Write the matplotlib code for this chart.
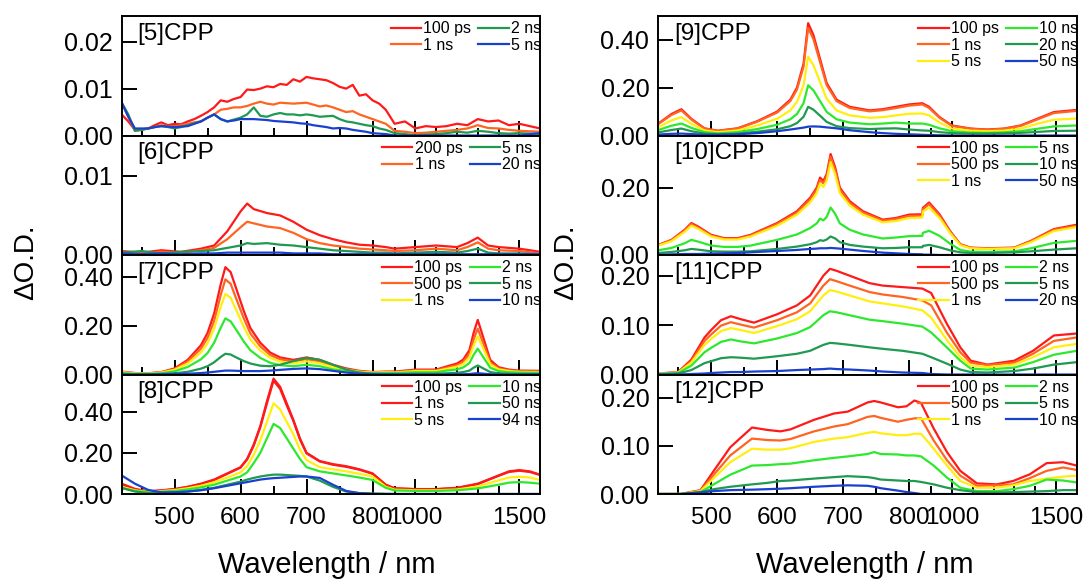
import numpy as np
import matplotlib
matplotlib.use("Agg")
import matplotlib.pyplot as plt
from matplotlib.ticker import FixedLocator

plt.rcParams['font.family'] = ['Liberation Sans', 'DejaVu Sans']

# ---------------- data ----------------
RED = '#ff1a1a'; ORANGE = '#ff6420'; YELLOW = '#ffee10'
LGREEN = '#2ee82e'; DGREEN = '#1f9a50'; BLUE = '#1a40d0'

# [5]CPP
wl5 = [420,430,440,450,460,470,480,490,500,510,520,530,540,550,560,570,580,590,600,610,620,630,640,650,660,670,680,690,700,710,720,730,740,750,760,770,780,790,800,810,820,
       900,950,1000,1050,1100,1150,1200,1250,1300,1350,1400,1450,1500,1550,1600]
c5_100ps = [0.0045,0.003,0.0012,0.0013,0.0015,0.0022,0.0028,0.0022,0.0025,0.0024,0.003,0.0035,0.0042,0.005,0.006,0.0075,0.0072,0.0078,0.0082,0.0098,0.0097,0.010,0.0105,0.0103,0.011,0.0108,0.012,0.0115,0.0125,0.0122,0.012,0.0118,0.0112,0.0104,0.010,0.0108,0.0085,0.0088,0.0075,0.0068,0.0055,
            0.0025,0.003,0.0015,0.002,0.0018,0.002,0.0025,0.0022,0.0035,0.003,0.0032,0.0022,0.0025,0.002,0.0015]
c5_1ns = [0.007,0.004,0.001,0.0012,0.0015,0.0018,0.0022,0.002,0.002,0.0022,0.0025,0.0028,0.003,0.0038,0.0045,0.0055,0.0057,0.006,0.006,0.0063,0.0068,0.0072,0.0068,0.0066,0.007,0.0069,0.0068,0.0069,0.007,0.0066,0.0062,0.0064,0.006,0.0055,0.005,0.0052,0.0045,0.004,0.0035,0.003,0.0025,
          0.001,0.0008,0.0005,0.0006,0.0008,0.001,0.0012,0.0015,0.0022,0.0016,0.0015,0.0012,0.001,0.0009,0.0008]
c5_2ns = [0.007,0.0045,0.001,0.0012,0.0015,0.0018,0.002,0.0018,0.0015,0.0018,0.0022,0.0026,0.003,0.0038,0.0045,0.0035,0.003,0.0034,0.0038,0.0045,0.006,0.0042,0.004,0.0045,0.0048,0.0045,0.0045,0.0043,0.0045,0.0043,0.004,0.0041,0.0042,0.0035,0.003,0.0028,0.0025,0.0022,0.002,0.0015,0.0012,
          0.0005,0.0003,0.0,0.0002,0.0003,0.0005,0.0008,0.0006,0.001,0.0008,0.0005,0.0004,0.0005,0.0004,0.0003]
c5_5ns = [0.007,0.004,0.0015,0.0015,0.0015,0.0018,0.002,0.0019,0.0018,0.0019,0.002,0.0025,0.003,0.0038,0.0045,0.0035,0.003,0.0032,0.0035,0.0035,0.0035,0.0034,0.0033,0.0031,0.003,0.0029,0.0028,0.0026,0.0025,0.0022,0.002,0.0018,0.0015,0.0016,0.0015,0.0012,0.001,0.0008,0.0005,0.0004,0.0003,
          0,0,0,0,0,0,0,0,0,0,0,0,0,0.0003,0.0005]

# [6]CPP
wl6 = [420,450,480,510,540,560,580,600,610,620,640,660,680,700,720,740,760,780,800,820,900,1000,1100,1200,1250,1300,1350,1400,1500,1600]
c6_200ps = [0.0005,0.0003,0.0006,0.0004,0.0008,0.0012,0.003,0.0055,0.0065,0.0058,0.0053,0.005,0.0042,0.0032,0.0025,0.002,0.0016,0.0013,0.0012,0.001,0.0008,0.001,0.0012,0.001,0.0015,0.0022,0.0012,0.001,0.0008,0.0004]
c6_1ns = [0.0003,0.0002,0.0004,0.0003,0.0006,0.0009,0.002,0.0035,0.0042,0.004,0.0036,0.0034,0.0028,0.002,0.0015,0.0012,0.001,0.0008,0.0007,0.0006,0.0005,0.0006,0.0008,0.0006,0.001,0.0016,0.0008,0.0006,0.0005,0.0002]
c6_5ns = [0.0003,0.0005,0.0002,0.0004,0.0005,0.0006,0.0009,0.0012,0.0015,0.0014,0.0015,0.0013,0.0012,0.001,0.0008,0.0006,0.0005,0.0004,0.0003,0.0003,0.0002,0.0003,0.0004,0.0003,0.0005,0.0008,0.0003,0.0002,0.0002,0.0001]
c6_20ns = [0.0002,0.0001,0.0002,0.0001,0.0002,0.0002,0.0003,0.0003,0.0003,0.0003,0.0003,0.0003,0.0002,0.0002,0.0002,0.0001,0.0001,0.0001,0.0001,0.0001,0.0001,0.0001,0.0001,0.0001,0.0001,0.0001,0.0001,0.0001,0.0001,0.0001]

# [7]CPP
wl7 = [420,440,460,480,500,520,540,550,560,570,577,585,595,605,615,630,645,660,680,700,720,740,760,780,800,820,
       900,1000,1100,1150,1200,1230,1260,1280,1300,1320,1360,1400,1450,1500,1600]
c7_100ps = [0.012,0.006,0.005,0.010,0.025,0.060,0.120,0.170,0.250,0.370,0.440,0.420,0.340,0.260,0.190,0.130,0.090,0.070,0.060,0.070,0.060,0.040,0.025,0.015,0.010,0.012,
            0.012,0.020,0.020,0.033,0.045,0.061,0.100,0.170,0.224,0.170,0.060,0.030,0.020,0.016,0.015]
c7_500ps = [0.011,0.005,0.004,0.009,0.022,0.053,0.106,0.150,0.220,0.326,0.390,0.372,0.300,0.230,0.168,0.115,0.080,0.062,0.054,0.063,0.054,0.035,0.022,0.013,0.009,0.010,
            0.010,0.017,0.017,0.028,0.038,0.052,0.085,0.143,0.188,0.143,0.050,0.025,0.017,0.013,0.012]
c7_1ns = [0.009,0.005,0.004,0.008,0.019,0.045,0.090,0.128,0.188,0.278,0.330,0.315,0.255,0.195,0.143,0.098,0.068,0.053,0.046,0.054,0.046,0.030,0.019,0.011,0.008,0.009,
          0.008,0.014,0.014,0.023,0.032,0.043,0.070,0.119,0.156,0.119,0.042,0.021,0.014,0.011,0.010]
c7_2ns = [0.006,0.003,0.003,0.005,0.013,0.031,0.062,0.088,0.130,0.192,0.230,0.218,0.177,0.135,0.099,0.068,0.048,0.038,0.034,0.040,0.034,0.021,0.013,0.008,0.005,0.006,
          0.006,0.009,0.009,0.016,0.021,0.029,0.047,0.080,0.106,0.080,0.028,0.014,0.009,0.008,0.007]
c7_5ns = [0.002,0.001,0.001,0.002,0.005,0.011,0.024,0.034,0.050,0.072,0.085,0.082,0.068,0.055,0.045,0.036,0.034,0.040,0.055,0.068,0.060,0.040,0.020,0.008,0.003,0.002,
          0.002,0.003,0.003,0.005,0.007,0.010,0.016,0.028,0.037,0.028,0.010,0.005,0.003,0.002,0.002]
c7_10ns = [0.0,0.0,0.0,0.001,0.002,0.003,0.006,0.008,0.011,0.014,0.016,0.016,0.015,0.014,0.014,0.014,0.016,0.019,0.023,0.025,0.022,0.015,0.008,0.003,0.001,0.0,
           0.0,0.0,0.0,0.0,0.001,0.001,0.002,0.004,0.005,0.004,0.001,0.0,0.0,0.0,0.0]

# [8]CPP
wl8 = [420,440,460,480,500,520,540,560,580,600,610,620,630,640,650,660,670,680,690,700,720,740,760,780,800,820,900,1000,1100,1200,1300,1400,1450,1500,1550,1600]
c8_100ps = [0.05,0.025,0.013,0.018,0.024,0.035,0.05,0.07,0.1,0.13,0.17,0.24,0.33,0.45,0.56,0.52,0.44,0.36,0.27,0.2,0.16,0.145,0.135,0.12,0.1,0.045,0.028,0.024,0.024,0.03,0.05,0.09,0.11,0.116,0.11,0.094]
c8_1ns = [0.045,0.022,0.012,0.017,0.023,0.034,0.048,0.068,0.098,0.128,0.168,0.235,0.325,0.44,0.55,0.51,0.43,0.355,0.265,0.197,0.158,0.142,0.132,0.118,0.098,0.044,0.027,0.023,0.023,0.029,0.048,0.088,0.107,0.113,0.107,0.092]
c8_5ns = [0.035,0.018,0.01,0.014,0.019,0.028,0.04,0.057,0.08,0.105,0.135,0.19,0.26,0.35,0.44,0.41,0.35,0.29,0.215,0.165,0.13,0.12,0.11,0.098,0.085,0.035,0.021,0.018,0.018,0.022,0.036,0.066,0.08,0.084,0.08,0.068]
c8_10ns = [0.028,0.015,0.008,0.011,0.015,0.022,0.032,0.045,0.065,0.085,0.105,0.15,0.2,0.27,0.34,0.32,0.27,0.22,0.17,0.13,0.11,0.1,0.09,0.08,0.068,0.03,0.017,0.015,0.015,0.018,0.027,0.045,0.055,0.058,0.055,0.05]
c8_50ns = [0.03,0.012,0.004,0.005,0.008,0.012,0.02,0.03,0.045,0.06,0.07,0.078,0.085,0.09,0.094,0.094,0.092,0.09,0.088,0.085,0.065,0.035,0.012,0.004,0.002,0.001,0.0,0.0,0.0,0.0,0.0,0.0,0.0,0.0,0.0,0.0]
c8_94ns = [0.09,0.05,0.02,0.008,0.008,0.012,0.018,0.028,0.04,0.052,0.058,0.064,0.07,0.074,0.077,0.079,0.081,0.083,0.085,0.085,0.078,0.045,0.015,0.004,0.001,0.0,0.0,0.0,0.0,0.0,0.0,0.0,0.0,0.0,0.0,0.0]

# [9]CPP
wl9 = [420,440,455,470,490,510,540,570,600,620,630,640,647,655,665,675,690,710,740,760,780,800,820,
       890,940,1000,1090,1170,1250,1330,1410,1490,1600]
c9_100ps = [0.050,0.090,0.110,0.070,0.030,0.020,0.030,0.060,0.100,0.150,0.200,0.300,0.470,0.420,0.320,0.220,0.150,0.120,0.105,0.110,0.120,0.130,0.135,
            0.120,0.077,0.042,0.029,0.025,0.029,0.042,0.070,0.098,0.107]
c9_1ns = [0.048,0.086,0.105,0.067,0.029,0.019,0.029,0.058,0.096,0.144,0.192,0.288,0.450,0.403,0.307,0.211,0.144,0.115,0.101,0.106,0.115,0.125,0.130,
          0.115,0.074,0.040,0.028,0.024,0.028,0.040,0.067,0.094,0.103]
c9_5ns = [0.035,0.063,0.077,0.049,0.021,0.014,0.021,0.042,0.070,0.105,0.140,0.210,0.330,0.294,0.224,0.154,0.105,0.084,0.074,0.077,0.084,0.091,0.092,
          0.084,0.054,0.029,0.020,0.018,0.020,0.029,0.049,0.066,0.071]
c9_10ns = [0.023,0.041,0.050,0.032,0.014,0.009,0.014,0.027,0.045,0.068,0.090,0.135,0.210,0.189,0.144,0.099,0.068,0.054,0.047,0.050,0.054,0.050,0.050,
           0.045,0.030,0.018,0.012,0.011,0.013,0.018,0.028,0.038,0.042]
c9_20ns = [0.013,0.023,0.029,0.018,0.008,0.005,0.008,0.016,0.026,0.039,0.052,0.078,0.120,0.108,0.083,0.057,0.039,0.031,0.027,0.029,0.030,0.025,0.021,
           0.020,0.014,0.010,0.008,0.008,0.009,0.011,0.015,0.019,0.020]
c9_50ns = [0.004,0.007,0.008,0.006,0.003,0.003,0.005,0.010,0.018,0.025,0.029,0.033,0.037,0.038,0.037,0.034,0.030,0.022,0.014,0.010,0.007,0.005,0.003,
           0.002,0.001,0.0,0.0,0.0,0.0,0.0,0.0,0.0,0.0]

# [10]CPP
wl10 = [420,440,460,470,480,500,520,540,560,600,630,650,660,665,670,675,681,688,695,710,730,760,780,800,820,
        860,890,940,990,1040,1090,1170,1300,1380,1490,1600]
c10_100ps = [0.030,0.045,0.075,0.095,0.085,0.060,0.050,0.050,0.060,0.095,0.130,0.170,0.200,0.230,0.220,0.240,0.300,0.260,0.200,0.160,0.130,0.105,0.110,0.120,0.121,
             0.140,0.156,0.121,0.072,0.032,0.022,0.020,0.022,0.042,0.077,0.090]
c10_500ps = [0.029,0.044,0.073,0.092,0.082,0.058,0.048,0.048,0.058,0.092,0.126,0.165,0.194,0.223,0.213,0.233,0.291,0.252,0.194,0.155,0.126,0.102,0.107,0.116,0.117,
             0.136,0.151,0.117,0.070,0.031,0.021,0.019,0.021,0.041,0.075,0.087]
c10_1ns = [0.028,0.041,0.069,0.087,0.078,0.055,0.046,0.046,0.055,0.087,0.120,0.156,0.184,0.212,0.202,0.221,0.276,0.239,0.184,0.147,0.120,0.097,0.101,0.110,0.111,
           0.129,0.141,0.110,0.066,0.029,0.020,0.018,0.020,0.038,0.071,0.083]
c10_5ns = [0.014,0.021,0.035,0.045,0.040,0.028,0.024,0.024,0.028,0.045,0.061,0.080,0.094,0.108,0.103,0.113,0.141,0.122,0.094,0.075,0.061,0.049,0.052,0.056,0.057,
           0.066,0.072,0.057,0.034,0.015,0.010,0.009,0.011,0.020,0.036,0.042]
c10_10ns = [0.006,0.009,0.014,0.018,0.016,0.011,0.010,0.010,0.011,0.018,0.025,0.032,0.038,0.044,0.042,0.046,0.055,0.049,0.038,0.030,0.025,0.020,0.021,0.023,0.023,
            0.027,0.030,0.023,0.014,0.008,0.006,0.006,0.008,0.011,0.016,0.020]
c10_50ns = [0.001,0.002,0.003,0.003,0.003,0.004,0.005,0.006,0.008,0.012,0.015,0.018,0.019,0.020,0.020,0.020,0.021,0.020,0.019,0.016,0.012,0.007,0.005,0.003,0.002,
            0.001,0.001,0.0,0.0,0.0,0.0,0.0,0.0,0.0,0.0,0.0]

# [11]CPP
wl11 = [420,450,470,490,500,515,530,545,565,600,630,650,670,680,690,710,740,760,790,820,
        900,975,1040,1090,1170,1300,1390,1490,1600]
c11_100ps = [0.002,0.005,0.030,0.075,0.090,0.110,0.118,0.112,0.105,0.122,0.140,0.160,0.200,0.214,0.210,0.200,0.185,0.180,0.177,0.174,
             0.165,0.103,0.055,0.028,0.020,0.028,0.048,0.079,0.083]
c11_500ps = [0.002,0.004,0.027,0.068,0.081,0.099,0.106,0.101,0.095,0.110,0.126,0.144,0.180,0.193,0.189,0.180,0.167,0.162,0.157,0.150,
             0.140,0.085,0.045,0.024,0.019,0.024,0.042,0.068,0.075]
c11_1ns = [0.002,0.004,0.024,0.060,0.072,0.088,0.094,0.090,0.084,0.098,0.112,0.128,0.160,0.171,0.168,0.160,0.148,0.144,0.138,0.130,
           0.115,0.070,0.035,0.018,0.015,0.020,0.035,0.055,0.062]
c11_2ns = [0.001,0.003,0.018,0.045,0.054,0.066,0.071,0.067,0.063,0.073,0.084,0.096,0.120,0.128,0.126,0.120,0.111,0.108,0.103,0.097,
           0.085,0.055,0.028,0.012,0.010,0.014,0.025,0.040,0.048]
c11_5ns = [0.001,0.002,0.009,0.023,0.027,0.033,0.035,0.034,0.032,0.037,0.042,0.048,0.060,0.064,0.063,0.060,0.055,0.052,0.048,0.042,
           0.035,0.022,0.010,0.005,0.004,0.007,0.012,0.020,0.025]
c11_20ns = [0.0,0.0,0.001,0.002,0.003,0.004,0.005,0.005,0.006,0.007,0.009,0.010,0.011,0.012,0.011,0.010,0.008,0.006,0.004,0.003,
            0.001,0.0,0.0,0.0,0.0,0.0,0.0,0.0,0.0]

# [12]CPP
wl12 = [420,454,484,504,529,562,585,605,620,656,686,707,737,747,757,783,796,808,818,912,976,1040,1120,1216,1294,1375,1455,1534,1600]
c12_100ps = [0.0,0.0,0.008,0.048,0.097,0.138,0.133,0.13,0.134,0.154,0.167,0.171,0.19,0.193,0.19,0.18,0.182,0.194,0.189,0.136,0.087,0.048,0.022,0.02,0.027,0.041,0.064,0.066,0.059]
c12_500ps = [0.0,0.0,0.007,0.04,0.08,0.115,0.112,0.111,0.114,0.13,0.14,0.145,0.16,0.162,0.158,0.15,0.154,0.157,0.157,0.111,0.07,0.038,0.017,0.018,0.02,0.033,0.048,0.055,0.05]
c12_1ns = [0.0,0.0,0.006,0.033,0.066,0.094,0.092,0.092,0.095,0.108,0.115,0.118,0.127,0.129,0.126,0.122,0.122,0.125,0.125,0.094,0.059,0.027,0.013,0.013,0.018,0.027,0.032,0.036,0.038]
c12_2ns = [0.0,0.0,0.004,0.02,0.04,0.059,0.06,0.062,0.063,0.07,0.075,0.078,0.083,0.087,0.083,0.082,0.08,0.08,0.078,0.059,0.034,0.013,0.006,0.006,0.01,0.017,0.03,0.028,0.024]
c12_5ns = [0.0,0.0,0.004,0.01,0.015,0.02,0.023,0.027,0.028,0.032,0.035,0.037,0.035,0.033,0.03,0.028,0.027,0.027,0.025,0.02,0.013,0.008,0.004,0.003,0.004,0.005,0.006,0.008,0.008]
c12_10ns = [0.0,0.0,0.003,0.006,0.008,0.009,0.01,0.011,0.012,0.015,0.017,0.018,0.017,0.015,0.012,0.007,0.004,0.002,0.0,0.0,0.0,0.0,0.0,0.0,0.0,0.0,0.0,0.0,0.0]

# ---------------- axis scale (broken wavelength axis) ----------------
XP = [420.0, 820.0, 858.0, 1600.0]
UP = [0.0, 264.0, 264.1, 418.3]

def fwd(x):
    return np.interp(x, XP, UP)

def inv(u):
    return np.interp(u, UP, XP)

panels_left = [
    ('[5]CPP', wl5, [(c5_100ps, '100 ps', RED), (c5_1ns, '1 ns', ORANGE), (c5_2ns, '2 ns', DGREEN), (c5_5ns, '5 ns', BLUE)],
     (0, 0.0255), [0.0, 0.01, 0.02]),
    ('[6]CPP', wl6, [(c6_200ps, '200 ps', RED), (c6_1ns, '1 ns', ORANGE), (c6_5ns, '5 ns', DGREEN), (c6_20ns, '20 ns', BLUE)],
     (0, 0.0151), [0.0, 0.01]),
    ('[7]CPP', wl7, [(c7_100ps, '100 ps', RED), (c7_500ps, '500 ps', ORANGE), (c7_1ns, '1 ns', YELLOW),
                     (c7_2ns, '2 ns', LGREEN), (c7_5ns, '5 ns', DGREEN), (c7_10ns, '10 ns', BLUE)],
     (0, 0.49), [0.0, 0.2, 0.4]),
    ('[8]CPP', wl8, [(c8_100ps, '100 ps', RED), (c8_1ns, '1 ns', RED), (c8_5ns, '5 ns', YELLOW),
                     (c8_10ns, '10 ns', LGREEN), (c8_50ns, '50 ns', DGREEN), (c8_94ns, '94 ns', BLUE)],
     (0, 0.58), [0.0, 0.2, 0.4]),
]
panels_right = [
    ('[9]CPP', wl9, [(c9_100ps, '100 ps', RED), (c9_1ns, '1 ns', ORANGE), (c9_5ns, '5 ns', YELLOW),
                     (c9_10ns, '10 ns', LGREEN), (c9_20ns, '20 ns', DGREEN), (c9_50ns, '50 ns', BLUE)],
     (0, 0.50), [0.0, 0.2, 0.4]),
    ('[10]CPP', wl10, [(c10_100ps, '100 ps', RED), (c10_500ps, '500 ps', ORANGE), (c10_1ns, '1 ns', YELLOW),
                       (c10_5ns, '5 ns', LGREEN), (c10_10ns, '10 ns', DGREEN), (c10_50ns, '50 ns', BLUE)],
     (0, 0.355), [0.0, 0.2]),
    ('[11]CPP', wl11, [(c11_100ps, '100 ps', RED), (c11_500ps, '500 ps', ORANGE), (c11_1ns, '1 ns', YELLOW),
                       (c11_2ns, '2 ns', LGREEN), (c11_5ns, '5 ns', DGREEN), (c11_20ns, '20 ns', BLUE)],
     (0, 0.242), [0.0, 0.1, 0.2]),
    ('[12]CPP', wl12, [(c12_100ps, '100 ps', RED), (c12_500ps, '500 ps', ORANGE), (c12_1ns, '1 ns', YELLOW),
                       (c12_2ns, '2 ns', LGREEN), (c12_5ns, '5 ns', DGREEN), (c12_10ns, '10 ns', BLUE)],
     (0, 0.248), [0.0, 0.1, 0.2]),
]

W, H = 1085, 579
fig = plt.figure(figsize=(W / 100, H / 100), dpi=100)

top_px, bot_px = 16, 494
ph = (bot_px - top_px) / 4.0

def make_column(x0_px, panels):
    axes = []
    for i, (name, wl, series, ylim, yt) in enumerate(panels):
        y_top = top_px + i * ph
        ax = fig.add_axes([x0_px / W, 1 - (y_top + ph) / H, 418.4 / W, ph / H])
        ax.set_xscale('function', functions=(fwd, inv))
        for vals, lab, col in series:
            ax.plot(wl, vals, color=col, lw=1.6, label=lab, solid_joinstyle='round')
        ax.set_xlim(420, 1600)
        ax.set_ylim(*ylim)
        ax.xaxis.set_major_locator(FixedLocator([500, 600, 700, 800, 1000, 1500]))
        ax.xaxis.set_minor_locator(FixedLocator([450, 550, 650, 750, 900, 1100, 1200, 1300, 1400]))
        ax.yaxis.set_major_locator(FixedLocator(yt))
        ax.set_yticklabels(['{:.2f}'.format(v) for v in yt])
        ax.tick_params(axis='x', which='major', direction='in', length=11, width=1.4, top=False, labelsize=17.5, pad=9)
        ax.tick_params(axis='x', which='minor', direction='in', length=5.5, width=1.4, top=False)
        ax.tick_params(axis='y', which='major', direction='in', length=11, width=1.4, right=False, labelsize=18, pad=6.5)
        if i < len(panels) - 1:
            ax.tick_params(axis='x', labelbottom=False)
        for s in ax.spines.values():
            s.set_linewidth(1.4)
        ax.text(0.037, 0.85, name, transform=ax.transAxes, fontsize=17.5, va='center', ha='left')
        ax.legend(loc='upper right', bbox_to_anchor=(1.03, 1.05), ncol=2, frameon=False,
                  fontsize=11.5, handlelength=1.9, handletextpad=0.15, columnspacing=0.45,
                  labelspacing=0.1, borderpad=0.2)
        axes.append(ax)
    return axes

la = make_column(121.7, panels_left)
ra = make_column(658.3, panels_right)

fig.text(26 / W, 1 - 262 / H, 'ΔO.D.', rotation=90, fontsize=20, ha='center', va='center')
fig.text(566 / W, 1 - 262 / H, 'ΔO.D.', rotation=90, fontsize=20, ha='center', va='center')
fig.text(327 / W, 1 - 565 / H, 'Wavelength / nm', fontsize=21, ha='center', va='center')
fig.text(865 / W, 1 - 565 / H, 'Wavelength / nm', fontsize=21, ha='center', va='center')

fig.savefig('out.png', dpi=100)
